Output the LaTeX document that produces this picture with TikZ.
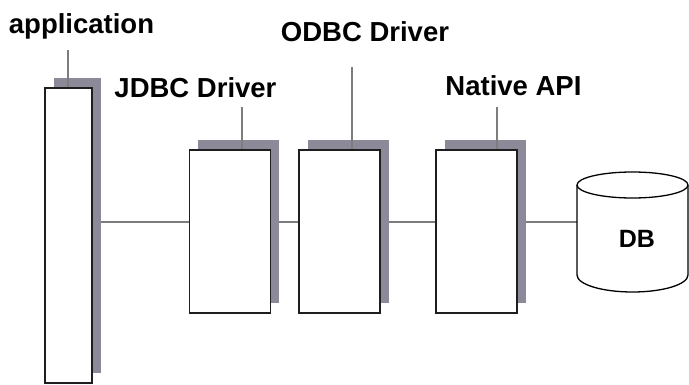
\documentclass[tikz,border=0pt]{standalone}
\usepackage{fontspec}
\setmainfont{Liberation Sans}
\usetikzlibrary{shadows,backgrounds}
\definecolor{shadowcol}{RGB}{140,137,153}
\definecolor{linecol}{RGB}{125,125,125}
\definecolor{boxcol}{RGB}{30,30,30}
\begin{document}
\begin{tikzpicture}[x=1pt,y=1pt,
  compbox/.style={draw=boxcol, line width=1.8pt, fill=white, rectangle, inner sep=0pt,
    minimum width=81pt, minimum height=163pt,
    general shadow={shadow xshift=8.5pt, shadow yshift=10.5pt, fill=shadowcol, draw=none}},
  lbl/.style={font=\fontsize{27.5}{33}\selectfont\bfseries, inner sep=0pt, anchor=base},
  conn/.style={draw=linecol, line width=1.4pt},
  pointer/.style={draw=linecol, line width=1.4pt},
  dbline/.style={draw=black, line width=1.3pt}]
\useasboundingbox (0,0) rectangle (689,384);
% application box
\node[compbox, minimum width=47pt, minimum height=295pt] (app) at (68.5,148.5) {};
\node[compbox] (jdbc) at (230,152.5) {};
\node[compbox] (odbc) at (339.5,152.5) {};
\node[compbox] (native) at (476.5,152.5) {};
% DB cylinder
\draw[dbline, fill=white] (577,199) -- (577,109) arc[start angle=180, end angle=360, x radius=55.5pt, y radius=17pt] -- (688,199);
\draw[dbline, fill=white] (632.5,199) ellipse[x radius=55.5pt, y radius=13pt];
\node[font=\fontsize{25}{30}\selectfont\bfseries, inner sep=0pt, minimum width=120pt, minimum height=70pt] (db) at (637,145) {DB};
% labels
\node[lbl] (applbl) at (81.5,351) {application};
\node[lbl] (jdbclbl) at (195.5,287) {JDBC Driver};
\node[lbl] (odbclbl) at (365,342) {ODBC Driver};
\node[lbl] (nativelbl) at (513.5,289) {Native API};
% pointers
\coordinate (appp) at (68,334);
\coordinate (jdbcp) at (242,277);
\coordinate (odbcp) at (352,317);
\coordinate (nativep) at (497,277);
\draw[pointer] (appp) -- (appp |- app.north);
\draw[pointer] (jdbcp) -- (jdbcp |- jdbc.north);
\draw[pointer] (odbcp) -- (odbcp |- odbc.north);
\draw[pointer] (nativep) -- (nativep |- native.north);
% connectors
\begin{scope}[on background layer]
\draw[conn] (app.east |- 0,162) -- (jdbc.west |- 0,162);
\draw[conn] (jdbc.east |- 0,162) -- (odbc.west |- 0,162);
\draw[conn] (odbc.east |- 0,162) -- (native.west |- 0,162);
\draw[conn] (native.east |- 0,162) -- (db.west |- 0,162);
\end{scope}
\end{tikzpicture}
\end{document}
